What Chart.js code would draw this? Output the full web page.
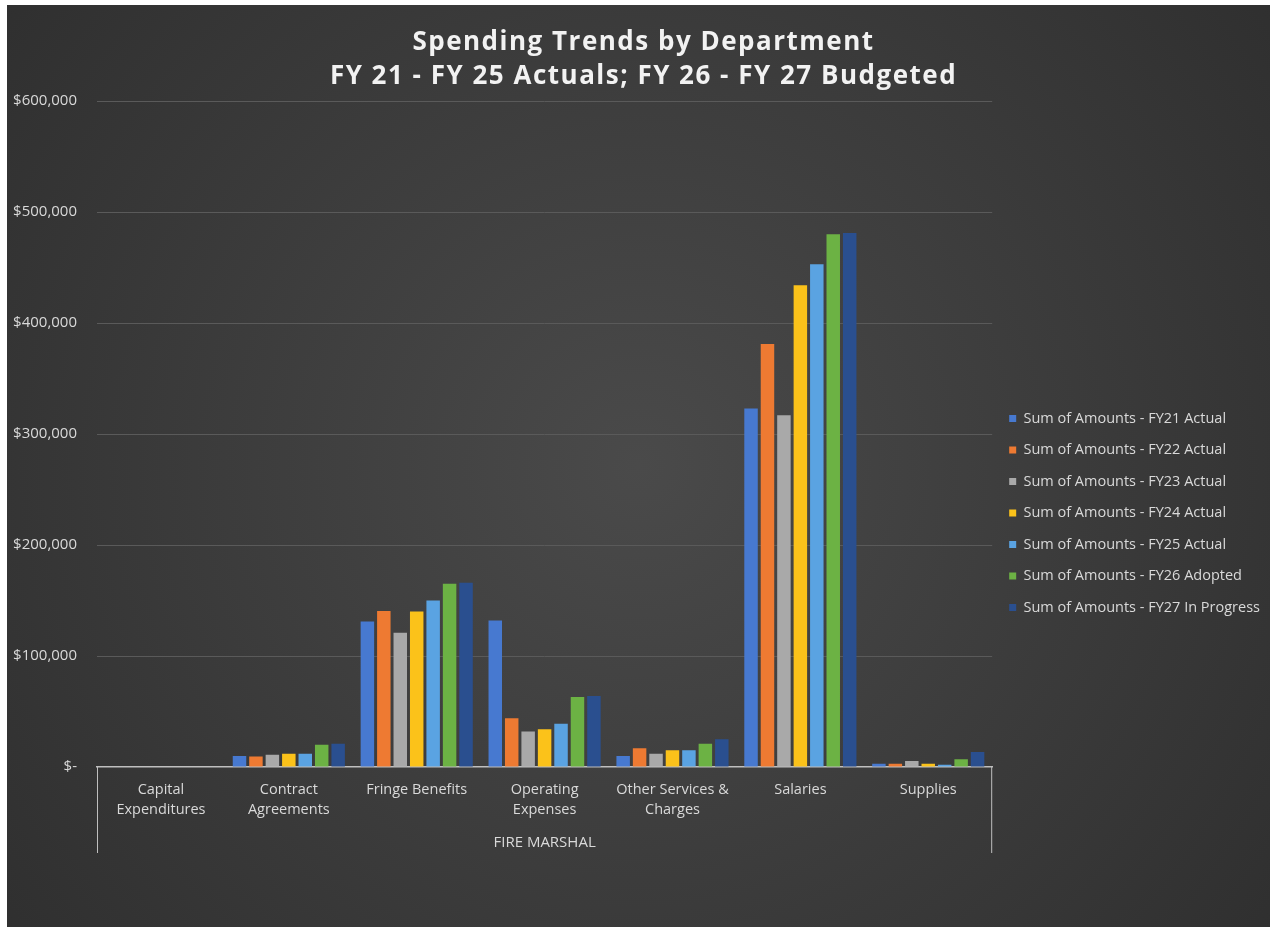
<!DOCTYPE html>
<html>
<head>
<meta charset="utf-8">
<script src="https://cdn.jsdelivr.net/npm/chart.js@4.4.1/dist/chart.umd.min.js"></script>
<style>
  html, body { margin: 0; padding: 0; background: #ffffff; }
  #wrap { position: absolute; left: 7px; top: 5px; width: 1263px; height: 922px; }
</style>
</head>
<body>
<div id="wrap"><canvas id="chart"></canvas></div>
<script>
// categories (cost types under FIRE MARSHAL)
const categories = [
  ['Capital', 'Expenditures'],
  ['Contract', 'Agreements'],
  'Fringe Benefits',
  ['Operating', 'Expenses'],
  ['Other Services &', 'Charges'],
  'Salaries',
  'Supplies'
];
const groupLabel = 'FIRE MARSHAL';

// values, in dollars
const fy21 = [0, 10000, 131000, 132000, 10000, 323000, 3000];
const fy22 = [0, 9500, 140500, 44000, 17000, 381000, 3000];
const fy23 = [0, 11000, 121000, 32000, 12000, 317000, 5500];
const fy24 = [0, 12000, 140000, 34000, 15000, 434000, 3000];
const fy25 = [0, 12000, 150000, 39000, 15000, 453000, 2000];
const fy26 = [0, 20000, 165000, 63000, 21000, 480000, 7000];
const fy27 = [0, 21000, 166000, 64000, 25000, 481000, 13500];

const seriesNames = [
  'Sum of Amounts - FY21 Actual',
  'Sum of Amounts - FY22 Actual',
  'Sum of Amounts - FY23 Actual',
  'Sum of Amounts - FY24 Actual',
  'Sum of Amounts - FY25 Actual',
  'Sum of Amounts - FY26 Adopted',
  'Sum of Amounts - FY27 In Progress'
];
const seriesColors = ['#4779d0', '#ee7a32', '#a9a9a9', '#fbc21a', '#5aa3e2', '#6cb244', '#2a4f8f'];
const seriesValues = [fy21, fy22, fy23, fy24, fy25, fy26, fy27];

const yMax = 600000;
const yStep = 100000;

const textColor = '#d9d9d9';
const baseFont = '"Open Sans", "DejaVu Sans", sans-serif';

// dark radial backdrop like the excel chart style
const backdrop = {
  id: 'backdrop',
  beforeDraw(chart) {
    const { ctx, width, height } = chart;
    const g = ctx.createRadialGradient(width / 2, height / 2, 0, width / 2, height / 2, width * 0.75);
    g.addColorStop(0, '#4a4a4a');
    g.addColorStop(1, '#2a2a2a');
    ctx.save();
    ctx.fillStyle = g;
    ctx.fillRect(0, 0, width, height);
    ctx.restore();
    // excel title is letter-spaced a bit, patch the title box once
    const t = chart.titleBlock;
    if (t && !t._spaced) {
      const orig = t.draw;
      t.draw = function (...args) {
        this.ctx.save();
        this.ctx.letterSpacing = '1.5px';
        this.ctx.translate(5, 0);
        orig.apply(this, args);
        this.ctx.restore();
      };
      t._spaced = true;
    }
  }
};

// the side rules of the two-level category axis
const axisFrame = {
  id: 'axisFrame',
  afterDraw(chart) {
    const { ctx, chartArea } = chart;
    ctx.save();
    ctx.strokeStyle = '#bfbfbf';
    ctx.lineWidth = 1;
    ctx.beginPath();
    ctx.moveTo(chartArea.left + 0.5, chartArea.bottom);
    ctx.lineTo(chartArea.left + 0.5, chartArea.bottom + 86);
    ctx.moveTo(chartArea.right - 0.5, chartArea.bottom);
    ctx.lineTo(chartArea.right - 0.5, chartArea.bottom + 86);
    ctx.stroke();
    ctx.restore();
  }
};

// push the legend block down to where excel put it
const legendShift = {
  id: 'legendShift',
  afterLayout(chart) {
    const lg = chart.legend;
    if (lg) {
      lg.top += 79;
      lg.bottom += 79;
    }
  }
};

const datasets = seriesNames.map((name, i) => ({
  label: name,
  data: seriesValues[i],
  backgroundColor: seriesColors[i],
  borderWidth: 0,
  categoryPercentage: 0.9,
  barPercentage: 0.82
}));

new Chart(document.getElementById('chart'), {
  type: 'bar',
  data: { labels: categories, datasets: datasets },
  plugins: [backdrop, axisFrame, legendShift],
  options: {
    responsive: true,
    maintainAspectRatio: false,
    animation: false,
    layout: { padding: { left: 0, right: 0, top: 0, bottom: 60 } },
    plugins: {
      title: {
        display: true,
        text: ['Spending Trends by Department', 'FY 21 - FY 25 Actuals; FY 26 - FY 27 Budgeted'],
        color: '#f2f2f2',
        font: { family: baseFont, size: 26, weight: 'bold', lineHeight: 1.308 },
        padding: { top: 21, bottom: 7 }
      },
      legend: {
        position: 'right',
        fullSize: false,
        labels: {
          color: textColor,
          font: { family: baseFont, size: 14.5 },
          boxWidth: 7,
          boxHeight: 7,
          padding: 17
        }
      },
      tooltip: { enabled: false }
    },
    scales: {
      x: {
        grid: { display: false, drawTicks: false },
        border: { color: '#bfbfbf', width: 1.5 },
        ticks: {
          color: textColor,
          font: { family: baseFont, size: 14.5, lineHeight: 1.38 },
          padding: 13,
          maxRotation: 0,
          autoSkip: false
        },
        title: {
          display: true,
          text: groupLabel,
          color: textColor,
          font: { family: baseFont, size: 15 },
          padding: { top: 4, bottom: 15 }
        },
        afterFit(scale) { scale.height = 100; }
      },
      y: {
        min: 0,
        max: yMax,
        grid: { color: '#5a5a5a', drawTicks: false },
        border: { display: false },
        ticks: {
          stepSize: yStep,
          color: textColor,
          font: { family: baseFont, size: 15 },
          padding: 20,
          callback: (v) => v === 0 ? '$-' : '$' + v.toLocaleString('en-US')
        },
        afterFit(scale) { scale.width = 90; }
      }
    }
  }
});
</script>
</body>
</html>
